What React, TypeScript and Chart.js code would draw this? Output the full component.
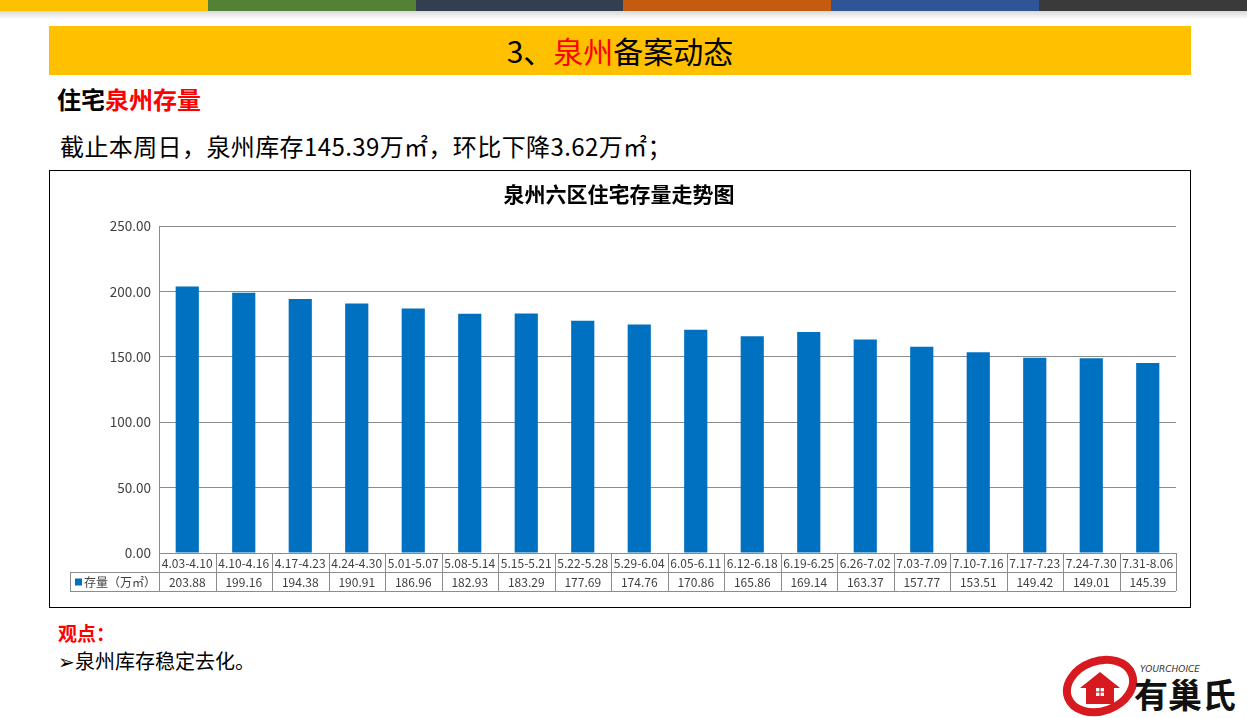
import React, { useEffect, useRef } from "react";
import { Chart, registerables } from "chart.js";

Chart.register(...registerables);

const categories = [
  "4.03-4.10", "4.10-4.16", "4.17-4.23", "4.24-4.30", "5.01-5.07", "5.08-5.14",
  "5.15-5.21", "5.22-5.28", "5.29-6.04", "6.05-6.11", "6.12-6.18", "6.19-6.25",
  "6.26-7.02", "7.03-7.09", "7.10-7.16", "7.17-7.23", "7.24-7.30", "7.31-8.06",
];
const stockValues = [
  203.88, 199.16, 194.38, 190.91, 186.96, 182.93, 183.29, 177.69, 174.76,
  170.86, 165.86, 169.14, 163.37, 157.77, 153.51, 149.42, 149.01, 145.39,
];
const seriesName = "存量（万㎡）";
const chartTitle = "泉州六区住宅存量走势图";
const yTicks = [0, 50, 100, 150, 200, 250];

const stripeColors = ["#FFC000", "#538135", "#323F4F", "#C55A11", "#2F5597", "#3A3A3A"];

const BAR_COLOR = "#0070C0";
const LINE_COLOR = "#8C8C8C";
const TEXT_COLOR = "#404040";
const FONT = "'Noto Sans CJK SC', 'Noto Sans', sans-serif";

const tablePlugin = {
  id: "dataTable",
  afterDraw(chart: any) {
    const { ctx, chartArea } = chart;
    const x = chart.scales.x;
    const left = chartArea.left;
    const right = chartArea.right;
    const top = chartArea.bottom;
    const rowH = 19;
    const headerLeft = 20;
    const n = categories.length;
    const w = (right - left) / n;
    ctx.save();
    ctx.strokeStyle = LINE_COLOR;
    ctx.lineWidth = 1;
    ctx.beginPath();
    ctx.moveTo(left, top + 0.5);
    ctx.lineTo(right, top + 0.5);
    ctx.moveTo(headerLeft, Math.round(top + rowH) + 0.5);
    ctx.lineTo(right, Math.round(top + rowH) + 0.5);
    ctx.moveTo(headerLeft, Math.round(top + 2 * rowH) + 0.5);
    ctx.lineTo(right, Math.round(top + 2 * rowH) + 0.5);
    for (let i = 0; i <= n; i++) {
      const vx = Math.round(left + i * w) + 0.5;
      ctx.moveTo(vx, top);
      ctx.lineTo(vx, top + 2 * rowH);
    }
    ctx.moveTo(headerLeft + 0.5, top + rowH);
    ctx.lineTo(headerLeft + 0.5, top + 2 * rowH);
    ctx.stroke();

    ctx.fillStyle = TEXT_COLOR;
    ctx.textAlign = "center";
    ctx.textBaseline = "middle";
    ctx.font = `12px ${FONT}`;
    categories.forEach((c, i) => {
      const cx = x.getPixelForValue(i);
      ctx.fillText(c, cx, top + rowH / 2 + 1);
      ctx.fillText(stockValues[i].toFixed(2), cx, top + rowH * 1.5 + 1);
    });
    ctx.fillStyle = BAR_COLOR;
    ctx.fillRect(headerLeft + 5, top + rowH * 1.5 - 3, 7, 7);
    ctx.fillStyle = TEXT_COLOR;
    ctx.textAlign = "left";
    ctx.fillText(seriesName, headerLeft + 14, top + rowH * 1.5 + 1);
    ctx.restore();
  },
};

function ChartBox() {
  const ref = useRef<HTMLCanvasElement>(null);
  useEffect(() => {
    if (!ref.current) return;
    const chart = new Chart(ref.current, {
      type: "bar",
      data: {
        labels: categories,
        datasets: [
          {
            label: seriesName,
            data: stockValues,
            backgroundColor: BAR_COLOR,
            categoryPercentage: 1,
            barPercentage: 0.41,
          },
        ],
      },
      options: {
        responsive: false,
        animation: false,
        layout: { padding: { left: 12, right: 14, top: 0, bottom: 54 } },
        plugins: {
          legend: { display: false },
          tooltip: { enabled: false },
          title: {
            display: true,
            text: chartTitle,
            color: "#000",
            font: { family: FONT, size: 21, weight: "bold" },
            padding: { top: 10, bottom: 20 },
          },
        },
        scales: {
          x: { display: false },
          y: {
            min: 0,
            max: 250,
            afterFit: (s: any) => {
              s.width = 97;
            },
            afterBuildTicks: (s: any) => {
              s.ticks = yTicks.map((v) => ({ value: v }));
            },
            ticks: {
              padding: 8,
              color: TEXT_COLOR,
              font: { family: FONT, size: 13.5 },
              callback: (v: any) => Number(v).toFixed(2),
            },
            grid: { color: LINE_COLOR, drawTicks: false },
            border: { display: true, color: LINE_COLOR },
          },
        },
      },
      plugins: [tablePlugin],
    });
    return () => chart.destroy();
  }, []);
  return <canvas ref={ref} width={1140} height={436} style={{ width: 1140, height: 436, display: "block" }} />;
}

function Logo() {
  return (
    <svg width="190" height="70" viewBox="0 0 190 70" style={{ position: "absolute", left: 1058, top: 648 }}>
      <ellipse cx="42" cy="38" rx="34" ry="25" fill="none" stroke="#D71920" strokeWidth="8" transform="rotate(-20 42 38)" />
      <path d="M22 40 L42 24 L62 40 L56 40 L56 56 L28 56 L28 40 Z" fill="#D71920" />
      <rect x="38" y="40" width="8" height="8" fill="#fff" />
      <line x1="42" y1="40" x2="42" y2="48" stroke="#D71920" strokeWidth="1.2" />
      <line x1="38" y1="44" x2="46" y2="44" stroke="#D71920" strokeWidth="1.2" />
      <text x="82" y="24" fontFamily="'DejaVu Sans', sans-serif" fontStyle="italic" fontSize="9" fill="#333">YOURCHOICE</text>
      <text x="76" y="60" fontFamily={FONT} fontWeight="bold" fontSize="34" fill="#111">有巢氏</text>
    </svg>
  );
}

export default function App() {
  return (
    <div style={{ position: "absolute", left: 0, top: 0, width: 1247, height: 718, background: "#fff", overflow: "hidden", fontFamily: FONT }}>
      <div style={{ position: "absolute", left: 0, top: 0, width: 1247, height: 11, display: "flex" }}>
        {stripeColors.map((c, i) => (
          <div key={i} style={{ flex: 1, background: c }} />
        ))}
      </div>
      <div style={{ position: "absolute", left: 0, top: 11, width: 1247, height: 8, background: "linear-gradient(#d8d8d8, #ffffff)" }} />
      <div style={{ position: "absolute", left: 49, top: 26, width: 1142, height: 49, background: "#FFC000", display: "flex", alignItems: "center", justifyContent: "center", fontSize: 30, color: "#000", lineHeight: "49px" }}>
        <span>3、</span>
        <span style={{ color: "#FF0000" }}>泉州</span>
        <span>备案动态</span>
      </div>
      <div style={{ position: "absolute", left: 57, top: 83, fontSize: 24, fontWeight: "bold", lineHeight: "32px", color: "#000" }}>
        住宅<span style={{ color: "#FF0000" }}>泉州存量</span>
      </div>
      <div style={{ position: "absolute", left: 60, top: 129, fontSize: 24, lineHeight: "34px", color: "#000", letterSpacing: "0.4px" }}>
        截止本周日，泉州库存145.39万㎡，环比下降3.62万㎡；
      </div>
      <div style={{ position: "absolute", left: 49, top: 170, width: 1142, height: 438, border: "1px solid #000", boxSizing: "border-box" }} />
      <div style={{ position: "absolute", left: 50, top: 171 }}>
        <ChartBox />
      </div>
      <div style={{ position: "absolute", left: 58, top: 620, fontSize: 19, fontWeight: "bold", color: "#FF0000", lineHeight: "26px" }}>
        观点：
      </div>
      <div style={{ position: "absolute", left: 58, top: 647, fontSize: 20, color: "#000", lineHeight: "28px" }}>
        ➢泉州库存稳定去化。
      </div>
      <Logo />
    </div>
  );
}
